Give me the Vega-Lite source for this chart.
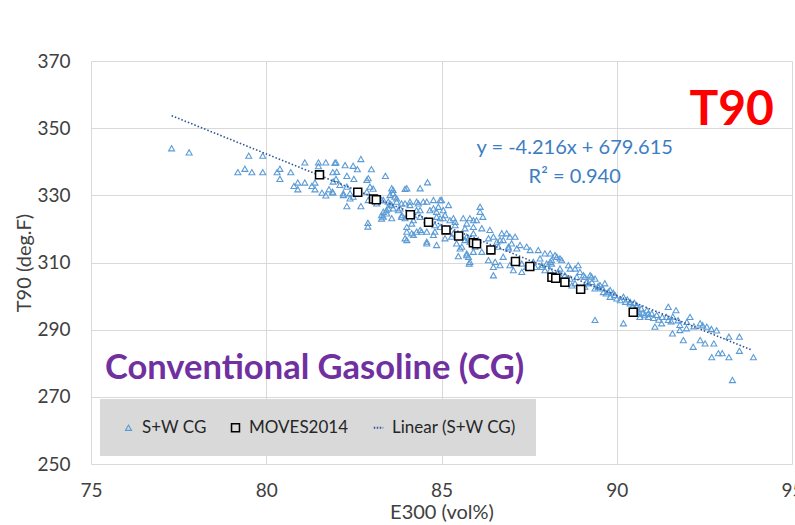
{
  "$schema": "https://vega.github.io/schema/vega-lite/v6.json",
  "width": 701,
  "height": 403,
  "autosize": {"type": "none"},
  "padding": {"left": 91, "top": 61, "right": 3, "bottom": 61},
  "background": "white",
  "config": {
    "font": "Lato",
    "view": {"stroke": null},
    "axis": {
      "grid": true,
      "gridColor": "#D9D9D9",
      "gridWidth": 1,
      "domain": false,
      "ticks": false,
      "labelFont": "Lato",
      "labelFontSize": 19,
      "labelColor": "#404040",
      "labelFlush": false,
      "labelOverlap": false,
      "titleFont": "Lato",
      "titleFontSize": 20,
      "titleFontWeight": "normal",
      "titleColor": "#404040"
    },
    "legend": {
      "padding": 20,
      "columnPadding": 20,
      "labelFont": "Lato",
      "labelFontSize": 17,
      "labelColor": "#262626",
      "labelOffset": 5,
      "fillColor": "#D9D9D9"
    }
  },
  "datasets": {
    "sw": [
      {"x":77.3,"y":344.0,"s":"S+W CG"},{"x":77.8,"y":342.8,"s":"S+W CG"},{"x":79.5,"y":341.8,"s":"S+W CG"},{"x":79.9,"y":341.8,"s":"S+W CG"},
      {"x":79.19,"y":336.9,"s":"S+W CG"},{"x":79.39,"y":337.9,"s":"S+W CG"},{"x":79.59,"y":336.9,"s":"S+W CG"},{"x":79.9,"y":336.9,"s":"S+W CG"},
      {"x":80.31,"y":336.9,"s":"S+W CG"},{"x":80.39,"y":337.9,"s":"S+W CG"},{"x":80.39,"y":334.9,"s":"S+W CG"},{"x":80.7,"y":336.9,"s":"S+W CG"},
      {"x":81.1,"y":339.8,"s":"S+W CG"},{"x":81.49,"y":339.8,"s":"S+W CG"},{"x":81.7,"y":339.8,"s":"S+W CG"},{"x":81.99,"y":339.8,"s":"S+W CG"},
      {"x":80.9,"y":333.8,"s":"S+W CG"},{"x":81.1,"y":333.8,"s":"S+W CG"},{"x":80.79,"y":332.8,"s":"S+W CG"},{"x":80.9,"y":331.8,"s":"S+W CG"},
      {"x":81.3,"y":332.8,"s":"S+W CG"},{"x":81.39,"y":333.8,"s":"S+W CG"},{"x":81.39,"y":331.8,"s":"S+W CG"},{"x":81.59,"y":330.8,"s":"S+W CG"},
      {"x":81.7,"y":330.0,"s":"S+W CG"},{"x":81.79,"y":331.8,"s":"S+W CG"},{"x":81.9,"y":330.8,"s":"S+W CG"},{"x":81.9,"y":336.9,"s":"S+W CG"},
      {"x":81.99,"y":334.9,"s":"S+W CG"},{"x":81.49,"y":338.7,"s":"S+W CG"},
      {"x":82.3,"y":335.8,"s":"S+W CG"},{"x":82.48,"y":338.8,"s":"S+W CG"},{"x":82.7,"y":340.8,"s":"S+W CG"},{"x":82.6,"y":337.8,"s":"S+W CG"},
      {"x":83.0,"y":337.8,"s":"S+W CG"},{"x":83.4,"y":335.8,"s":"S+W CG"},{"x":82.5,"y":334.9,"s":"S+W CG"},{"x":82.3,"y":326.8,"s":"S+W CG"},
      {"x":82.7,"y":326.8,"s":"S+W CG"},{"x":82.9,"y":321.8,"s":"S+W CG"},{"x":82.9,"y":320.7,"s":"S+W CG"},{"x":82.87,"y":334.6,"s":"S+W CG"},
      {"x":82.3,"y":332.6,"s":"S+W CG"},{"x":82.2,"y":330.1,"s":"S+W CG"},{"x":82.39,"y":329.1,"s":"S+W CG"},{"x":82.87,"y":331.1,"s":"S+W CG"},
      {"x":82.96,"y":332.6,"s":"S+W CG"},{"x":83.29,"y":324.1,"s":"S+W CG"},{"x":83.44,"y":324.6,"s":"S+W CG"},{"x":83.58,"y":323.2,"s":"S+W CG"},
      {"x":83.29,"y":328.6,"s":"S+W CG"},{"x":83.53,"y":327.6,"s":"S+W CG"},{"x":83.62,"y":331.6,"s":"S+W CG"},{"x":83.72,"y":329.1,"s":"S+W CG"},
      {"x":83.48,"y":326.1,"s":"S+W CG"},
      {"x":81.96,"y":339.7,"s":"S+W CG"},{"x":82.25,"y":339.0,"s":"S+W CG"},{"x":82.01,"y":337.0,"s":"S+W CG"},{"x":81.91,"y":334.1,"s":"S+W CG"},
      {"x":82.1,"y":333.1,"s":"S+W CG"},{"x":82.2,"y":330.6,"s":"S+W CG"},{"x":82.48,"y":329.6,"s":"S+W CG"},{"x":82.91,"y":335.1,"s":"S+W CG"},
      {"x":83.05,"y":332.0,"s":"S+W CG"},{"x":81.89,"y":331.1,"s":"S+W CG"},{"x":82.39,"y":330.6,"s":"S+W CG"},{"x":82.91,"y":328.6,"s":"S+W CG"},
      {"x":83.15,"y":327.6,"s":"S+W CG"},{"x":83.58,"y":332.1,"s":"S+W CG"},{"x":83.53,"y":330.1,"s":"S+W CG"},{"x":83.67,"y":329.6,"s":"S+W CG"},
      {"x":83.58,"y":327.1,"s":"S+W CG"},{"x":83.34,"y":325.1,"s":"S+W CG"},{"x":83.29,"y":323.1,"s":"S+W CG"},{"x":83.82,"y":326.1,"s":"S+W CG"},
      {"x":83.87,"y":324.1,"s":"S+W CG"},{"x":84.01,"y":332.1,"s":"S+W CG"},{"x":84.39,"y":332.1,"s":"S+W CG"},{"x":84.6,"y":333.9,"s":"S+W CG"},
      {"x":83.96,"y":327.6,"s":"S+W CG"},{"x":84.1,"y":327.1,"s":"S+W CG"},{"x":84.34,"y":327.6,"s":"S+W CG"},{"x":84.58,"y":328.1,"s":"S+W CG"},
      {"x":84.77,"y":328.6,"s":"S+W CG"},{"x":84.96,"y":328.6,"s":"S+W CG"},{"x":85.2,"y":327.1,"s":"S+W CG"},{"x":84.39,"y":325.6,"s":"S+W CG"},
      {"x":84.67,"y":325.6,"s":"S+W CG"},{"x":84.86,"y":325.1,"s":"S+W CG"},{"x":85.1,"y":324.1,"s":"S+W CG"},{"x":83.96,"y":323.2,"s":"S+W CG"},
      {"x":84.2,"y":324.1,"s":"S+W CG"},{"x":84.58,"y":322.6,"s":"S+W CG"},{"x":84.96,"y":323.2,"s":"S+W CG"},{"x":85.24,"y":322.6,"s":"S+W CG"},
      {"x":85.39,"y":322.1,"s":"S+W CG"},{"x":85.62,"y":323.2,"s":"S+W CG"},{"x":84.01,"y":319.2,"s":"S+W CG"},{"x":84.15,"y":318.7,"s":"S+W CG"},
      {"x":84.43,"y":319.2,"s":"S+W CG"},{"x":84.81,"y":319.2,"s":"S+W CG"},{"x":83.96,"y":317.2,"s":"S+W CG"},{"x":84.01,"y":316.7,"s":"S+W CG"},
      {"x":84.39,"y":319.7,"s":"S+W CG"},{"x":84.58,"y":316.2,"s":"S+W CG"},{"x":84.86,"y":315.2,"s":"S+W CG"},{"x":85.1,"y":317.2,"s":"S+W CG"},
      {"x":85.34,"y":318.7,"s":"S+W CG"},{"x":85.43,"y":315.7,"s":"S+W CG"},{"x":85.58,"y":314.7,"s":"S+W CG"},{"x":85.48,"y":311.9,"s":"S+W CG"},
      {"x":85.72,"y":312.2,"s":"S+W CG"},{"x":83.34,"y":323.7,"s":"S+W CG"},
      {"x":83.62,"y":330.6,"s":"S+W CG"},{"x":83.96,"y":331.9,"s":"S+W CG"},{"x":83.34,"y":328.6,"s":"S+W CG"},{"x":83.48,"y":328.1,"s":"S+W CG"},
      {"x":83.72,"y":328.1,"s":"S+W CG"},{"x":83.86,"y":327.6,"s":"S+W CG"},{"x":84.1,"y":328.1,"s":"S+W CG"},{"x":84.29,"y":328.1,"s":"S+W CG"},
      {"x":84.48,"y":328.1,"s":"S+W CG"},{"x":85.0,"y":328.6,"s":"S+W CG"},{"x":83.43,"y":325.6,"s":"S+W CG"},{"x":83.62,"y":326.1,"s":"S+W CG"},
      {"x":83.77,"y":325.6,"s":"S+W CG"},{"x":84.29,"y":325.6,"s":"S+W CG"},{"x":84.77,"y":326.1,"s":"S+W CG"},{"x":84.91,"y":326.6,"s":"S+W CG"},
      {"x":85.05,"y":325.6,"s":"S+W CG"},{"x":83.86,"y":323.6,"s":"S+W CG"},{"x":84.2,"y":322.6,"s":"S+W CG"},{"x":84.39,"y":323.6,"s":"S+W CG"},
      {"x":84.86,"y":323.6,"s":"S+W CG"},{"x":85.05,"y":323.2,"s":"S+W CG"},{"x":85.34,"y":323.2,"s":"S+W CG"},{"x":85.81,"y":323.2,"s":"S+W CG"},
      {"x":86.0,"y":322.6,"s":"S+W CG"},{"x":84.01,"y":320.6,"s":"S+W CG"},{"x":84.15,"y":321.6,"s":"S+W CG"},{"x":84.81,"y":321.1,"s":"S+W CG"},
      {"x":84.96,"y":320.6,"s":"S+W CG"},{"x":85.39,"y":321.1,"s":"S+W CG"},{"x":85.72,"y":321.6,"s":"S+W CG"},{"x":85.91,"y":320.6,"s":"S+W CG"},
      {"x":84.2,"y":318.2,"s":"S+W CG"},{"x":84.29,"y":319.2,"s":"S+W CG"},{"x":84.58,"y":319.2,"s":"S+W CG"},{"x":84.77,"y":318.2,"s":"S+W CG"},
      {"x":84.58,"y":315.7,"s":"S+W CG"},{"x":85.29,"y":317.7,"s":"S+W CG"},{"x":85.53,"y":318.2,"s":"S+W CG"},{"x":85.67,"y":316.7,"s":"S+W CG"},
      {"x":85.77,"y":317.2,"s":"S+W CG"},{"x":85.91,"y":318.7,"s":"S+W CG"},{"x":85.53,"y":314.2,"s":"S+W CG"},{"x":85.72,"y":312.7,"s":"S+W CG"},
      {"x":85.81,"y":310.2,"s":"S+W CG"},{"x":86.05,"y":316.7,"s":"S+W CG"},
      {"x":86.1,"y":326.6,"s":"S+W CG"},{"x":86.1,"y":325.1,"s":"S+W CG"},{"x":86.18,"y":323.6,"s":"S+W CG"},{"x":85.91,"y":322.6,"s":"S+W CG"},
      {"x":85.67,"y":320.2,"s":"S+W CG"},{"x":86.15,"y":320.2,"s":"S+W CG"},{"x":86.38,"y":319.7,"s":"S+W CG"},{"x":85.72,"y":317.7,"s":"S+W CG"},
      {"x":85.81,"y":316.2,"s":"S+W CG"},{"x":85.96,"y":314.7,"s":"S+W CG"},{"x":85.77,"y":311.7,"s":"S+W CG"},{"x":85.91,"y":313.2,"s":"S+W CG"},
      {"x":86.15,"y":313.2,"s":"S+W CG"},{"x":85.79,"y":309.7,"s":"S+W CG"},{"x":86.34,"y":317.2,"s":"S+W CG"},{"x":86.48,"y":317.7,"s":"S+W CG"},
      {"x":86.72,"y":318.7,"s":"S+W CG"},{"x":86.86,"y":318.7,"s":"S+W CG"},{"x":86.67,"y":316.7,"s":"S+W CG"},{"x":86.95,"y":317.7,"s":"S+W CG"},
      {"x":87.1,"y":317.7,"s":"S+W CG"},{"x":86.62,"y":314.7,"s":"S+W CG"},{"x":86.91,"y":314.7,"s":"S+W CG"},{"x":87.24,"y":315.2,"s":"S+W CG"},
      {"x":87.43,"y":314.7,"s":"S+W CG"},{"x":87.53,"y":313.7,"s":"S+W CG"},{"x":87.76,"y":313.7,"s":"S+W CG"},{"x":87.95,"y":312.7,"s":"S+W CG"},
      {"x":88.1,"y":312.7,"s":"S+W CG"},{"x":88.29,"y":311.7,"s":"S+W CG"},{"x":88.38,"y":311.2,"s":"S+W CG"},{"x":86.34,"y":310.7,"s":"S+W CG"},
      {"x":86.53,"y":310.2,"s":"S+W CG"},{"x":86.76,"y":311.7,"s":"S+W CG"},{"x":86.95,"y":309.2,"s":"S+W CG"},{"x":87.29,"y":307.2,"s":"S+W CG"},
      {"x":87.43,"y":308.7,"s":"S+W CG"},{"x":87.67,"y":308.7,"s":"S+W CG"},{"x":87.86,"y":308.7,"s":"S+W CG"},{"x":88.0,"y":309.7,"s":"S+W CG"},
      {"x":88.1,"y":307.7,"s":"S+W CG"},{"x":88.38,"y":308.2,"s":"S+W CG"},{"x":88.67,"y":308.2,"s":"S+W CG"},{"x":88.9,"y":309.2,"s":"S+W CG"},
      {"x":89.05,"y":306.2,"s":"S+W CG"},{"x":89.24,"y":306.2,"s":"S+W CG"},{"x":89.38,"y":305.2,"s":"S+W CG"},{"x":86.48,"y":306.2,"s":"S+W CG"},
      {"x":87.05,"y":307.7,"s":"S+W CG"},{"x":87.29,"y":309.7,"s":"S+W CG"},{"x":87.81,"y":311.2,"s":"S+W CG"},{"x":88.1,"y":310.2,"s":"S+W CG"},
      {"x":88.57,"y":305.2,"s":"S+W CG"},{"x":88.72,"y":303.2,"s":"S+W CG"},{"x":88.86,"y":305.7,"s":"S+W CG"},{"x":88.38,"y":306.2,"s":"S+W CG"},
      {"x":89.14,"y":304.2,"s":"S+W CG"},
      {"x":86.58,"y":316.2,"s":"S+W CG"},{"x":86.76,"y":316.7,"s":"S+W CG"},{"x":87.0,"y":315.7,"s":"S+W CG"},{"x":86.91,"y":314.2,"s":"S+W CG"},
      {"x":87.15,"y":314.2,"s":"S+W CG"},{"x":88.24,"y":312.2,"s":"S+W CG"},{"x":88.43,"y":310.7,"s":"S+W CG"},{"x":88.62,"y":309.2,"s":"S+W CG"},
      {"x":88.81,"y":308.2,"s":"S+W CG"},{"x":88.95,"y":307.2,"s":"S+W CG"},{"x":89.09,"y":305.7,"s":"S+W CG"},{"x":89.29,"y":304.2,"s":"S+W CG"},
      {"x":89.48,"y":302.7,"s":"S+W CG"},{"x":89.62,"y":301.2,"s":"S+W CG"},{"x":86.48,"y":308.7,"s":"S+W CG"},{"x":86.67,"y":309.2,"s":"S+W CG"},
      {"x":87.62,"y":310.2,"s":"S+W CG"},{"x":87.86,"y":309.2,"s":"S+W CG"},{"x":87.95,"y":307.7,"s":"S+W CG"},{"x":88.14,"y":309.7,"s":"S+W CG"},
      {"x":88.33,"y":307.2,"s":"S+W CG"},{"x":88.52,"y":306.2,"s":"S+W CG"},{"x":88.67,"y":305.2,"s":"S+W CG"},{"x":88.81,"y":303.8,"s":"S+W CG"},
      {"x":89.09,"y":302.8,"s":"S+W CG"},{"x":89.19,"y":303.8,"s":"S+W CG"},{"x":89.38,"y":302.3,"s":"S+W CG"},
      {"x":88.14,"y":310.7,"s":"S+W CG"},{"x":89.28,"y":305.8,"s":"S+W CG"},{"x":89.47,"y":303.0,"s":"S+W CG"},{"x":89.66,"y":303.8,"s":"S+W CG"},
      {"x":89.52,"y":303.3,"s":"S+W CG"},{"x":89.76,"y":301.3,"s":"S+W CG"},{"x":89.81,"y":301.8,"s":"S+W CG"},{"x":89.81,"y":299.8,"s":"S+W CG"},
      {"x":89.95,"y":300.3,"s":"S+W CG"},{"x":90.19,"y":299.8,"s":"S+W CG"},{"x":90.38,"y":298.3,"s":"S+W CG"},{"x":90.38,"y":297.8,"s":"S+W CG"},
      {"x":90.57,"y":297.3,"s":"S+W CG"},{"x":90.57,"y":296.8,"s":"S+W CG"},{"x":90.57,"y":295.3,"s":"S+W CG"},{"x":90.66,"y":294.8,"s":"S+W CG"},
      {"x":90.66,"y":293.8,"s":"S+W CG"},{"x":90.86,"y":295.8,"s":"S+W CG"},{"x":90.9,"y":294.8,"s":"S+W CG"},{"x":90.9,"y":293.8,"s":"S+W CG"},
      {"x":91.14,"y":294.4,"s":"S+W CG"},{"x":91.42,"y":293.8,"s":"S+W CG"},{"x":91.47,"y":296.8,"s":"S+W CG"},{"x":91.69,"y":295.8,"s":"S+W CG"},
      {"x":92.09,"y":293.8,"s":"S+W CG"},{"x":89.38,"y":292.9,"s":"S+W CG"},{"x":90.19,"y":291.9,"s":"S+W CG"},{"x":91.09,"y":290.9,"s":"S+W CG"},
      {"x":91.28,"y":291.9,"s":"S+W CG"},{"x":91.47,"y":292.9,"s":"S+W CG"},{"x":91.8,"y":291.4,"s":"S+W CG"},{"x":91.8,"y":289.9,"s":"S+W CG"},
      {"x":91.99,"y":290.4,"s":"S+W CG"},{"x":92.38,"y":291.9,"s":"S+W CG"},{"x":92.57,"y":290.9,"s":"S+W CG"},{"x":91.59,"y":288.9,"s":"S+W CG"},
      {"x":91.9,"y":286.9,"s":"S+W CG"},{"x":92.18,"y":284.9,"s":"S+W CG"},{"x":92.38,"y":286.9,"s":"S+W CG"},{"x":92.52,"y":285.9,"s":"S+W CG"},
      {"x":92.77,"y":285.9,"s":"S+W CG"},{"x":92.71,"y":281.8,"s":"S+W CG"},{"x":92.9,"y":283.0,"s":"S+W CG"},{"x":93.01,"y":283.0,"s":"S+W CG"},
      {"x":93.2,"y":281.8,"s":"S+W CG"},{"x":93.2,"y":287.9,"s":"S+W CG"},{"x":93.5,"y":287.9,"s":"S+W CG"},{"x":93.5,"y":283.7,"s":"S+W CG"},
      {"x":93.9,"y":281.8,"s":"S+W CG"},{"x":93.3,"y":275.0,"s":"S+W CG"},
      {"x":89.6,"y":302.3,"s":"S+W CG"},{"x":89.7,"y":300.8,"s":"S+W CG"},{"x":89.9,"y":301.0,"s":"S+W CG"},{"x":90.0,"y":299.3,"s":"S+W CG"},
      {"x":90.1,"y":298.8,"s":"S+W CG"},{"x":90.25,"y":298.3,"s":"S+W CG"},{"x":90.3,"y":299.0,"s":"S+W CG"},{"x":90.45,"y":297.0,"s":"S+W CG"},
      {"x":90.5,"y":298.0,"s":"S+W CG"},{"x":90.7,"y":296.3,"s":"S+W CG"},{"x":90.75,"y":295.0,"s":"S+W CG"},{"x":90.8,"y":294.3,"s":"S+W CG"},
      {"x":91.0,"y":294.8,"s":"S+W CG"},{"x":91.05,"y":293.5,"s":"S+W CG"},{"x":91.2,"y":293.0,"s":"S+W CG"},{"x":91.3,"y":293.8,"s":"S+W CG"},
      {"x":91.55,"y":292.5,"s":"S+W CG"},{"x":91.6,"y":293.9,"s":"S+W CG"},{"x":91.75,"y":292.8,"s":"S+W CG"},{"x":92.0,"y":292.3,"s":"S+W CG"},
      {"x":92.2,"y":291.0,"s":"S+W CG"},{"x":92.45,"y":291.3,"s":"S+W CG"},{"x":92.7,"y":290.2,"s":"S+W CG"},{"x":92.85,"y":289.8,"s":"S+W CG"}
    ],
    "moves": [
      {"x":81.52,"y":336.1,"s":"MOVES2014"},{"x":82.61,"y":330.9,"s":"MOVES2014"},{"x":83.06,"y":328.9,"s":"MOVES2014"},
      {"x":83.14,"y":328.7,"s":"MOVES2014"},{"x":84.11,"y":324.2,"s":"MOVES2014"},{"x":84.63,"y":322.0,"s":"MOVES2014"},
      {"x":85.13,"y":319.7,"s":"MOVES2014"},{"x":85.49,"y":317.9,"s":"MOVES2014"},{"x":85.91,"y":315.9,"s":"MOVES2014"},
      {"x":86.0,"y":315.6,"s":"MOVES2014"},{"x":86.41,"y":313.75,"s":"MOVES2014"},{"x":87.11,"y":310.3,"s":"MOVES2014"},
      {"x":87.52,"y":308.8,"s":"MOVES2014"},{"x":88.15,"y":305.6,"s":"MOVES2014"},{"x":88.26,"y":305.3,"s":"MOVES2014"},
      {"x":88.52,"y":304.1,"s":"MOVES2014"},{"x":88.97,"y":302.0,"s":"MOVES2014"},{"x":90.47,"y":295.2,"s":"MOVES2014"}
    ],
    "trend": [
      {"x":77.3,"y":353.72},{"x":93.85,"y":283.95}
    ],
    "labels": [
      {"x":93.28,"y":350.94,"t":"T90"}
    ],
    "title": [
      {"x":75.4,"y":275.3,"t":"Conventional Gasoline (CG)"}
    ],
    "eq": [
      {"x":88.8,"y":342.3,"t":"y = -4.216x + 679.615"},
      {"x":88.8,"y":333.8,"t":"R² = 0.940"}
    ]
  },
  "layer": [
    {
      "data": {"name": "sw"},
      "mark": {"type": "point", "filled": false, "opacity": 1},
      "encoding": {
        "x": {"field": "x", "type": "quantitative",
              "scale": {"domain": [75, 95], "nice": false, "zero": false},
              "axis": {"values": [75, 80, 85, 90, 95], "title": "E300 (vol%)", "labelPadding": 17, "titlePadding": 2}},
        "y": {"field": "y", "type": "quantitative",
              "scale": {"domain": [250, 370], "nice": false, "zero": false},
              "axis": {"values": [250, 270, 290, 310, 330, 350, 370], "title": "T90 (deg.F)", "labelPadding": 21, "titlePadding": 2}},
        "shape": {"field": "s", "type": "nominal",
                  "scale": {"domain": ["S+W CG", "MOVES2014", "Linear (S+W CG)"], "range": ["triangle-up", "square", "stroke"]},
                  "legend": {"title": null, "orient": "none", "legendX": 9, "legendY": 338, "direction": "horizontal"}},
        "stroke": {"field": "s", "type": "nominal",
                   "scale": {"domain": ["S+W CG", "MOVES2014", "Linear (S+W CG)"], "range": ["#5B9BD5", "#000000", "#2F5597"]},
                   "legend": {"title": null, "orient": "none", "legendX": 9, "legendY": 338, "direction": "horizontal"}},
        "size": {"field": "s", "type": "nominal",
                 "scale": {"domain": ["S+W CG", "MOVES2014", "Linear (S+W CG)"], "range": [36, 90, 900]},
                 "legend": {"title": null, "orient": "none", "legendX": 9, "legendY": 338, "direction": "horizontal"}},
        "strokeWidth": {"field": "s", "type": "nominal",
                 "scale": {"domain": ["S+W CG", "MOVES2014", "Linear (S+W CG)"], "range": [1.1, 2, 1.5]},
                 "legend": {"title": null, "orient": "none", "legendX": 9, "legendY": 338, "direction": "horizontal"}},
        "strokeDash": {"field": "s", "type": "nominal",
                 "scale": {"domain": ["S+W CG", "MOVES2014", "Linear (S+W CG)"], "range": [[1, 0], [1, 0], [1.5, 1.5]]},
                 "legend": {"title": null, "orient": "none", "legendX": 9, "legendY": 338, "direction": "horizontal"}}
      }
    },
    {
      "data": {"name": "trend"},
      "mark": {"type": "line", "color": "#2F5597", "strokeDash": [1.5, 2], "strokeWidth": 1.6},
      "encoding": {
        "x": {"field": "x", "type": "quantitative"},
        "y": {"field": "y", "type": "quantitative"}
      }
    },
    {
      "data": {"name": "moves"},
      "mark": {"type": "point", "filled": true, "fill": "white", "opacity": 1},
      "encoding": {
        "x": {"field": "x", "type": "quantitative"},
        "y": {"field": "y", "type": "quantitative"},
        "shape": {"field": "s", "type": "nominal"},
        "stroke": {"field": "s", "type": "nominal"},
        "size": {"field": "s", "type": "nominal"},
        "strokeWidth": {"field": "s", "type": "nominal"},
        "strokeDash": {"field": "s", "type": "nominal"}
      }
    },
    {
      "data": {"name": "labels"},
      "mark": {"type": "text", "font": "Lato", "fontSize": 48, "fontWeight": "bold", "color": "#FF0000", "align": "center", "baseline": "alphabetic"},
      "encoding": {
        "x": {"field": "x", "type": "quantitative"},
        "y": {"field": "y", "type": "quantitative"},
        "text": {"field": "t"}
      }
    },
    {
      "data": {"name": "title"},
      "mark": {"type": "text", "font": "Lato", "fontSize": 34.5, "fontWeight": "bold", "color": "#7030A0", "align": "left", "baseline": "alphabetic"},
      "encoding": {
        "x": {"field": "x", "type": "quantitative"},
        "y": {"field": "y", "type": "quantitative"},
        "text": {"field": "t"}
      }
    },
    {
      "data": {"name": "eq"},
      "mark": {"type": "text", "font": "Lato", "fontSize": 20, "color": "#3C7DC4", "align": "center", "baseline": "alphabetic"},
      "encoding": {
        "x": {"field": "x", "type": "quantitative"},
        "y": {"field": "y", "type": "quantitative"},
        "text": {"field": "t"}
      }
    }
  ]
}
